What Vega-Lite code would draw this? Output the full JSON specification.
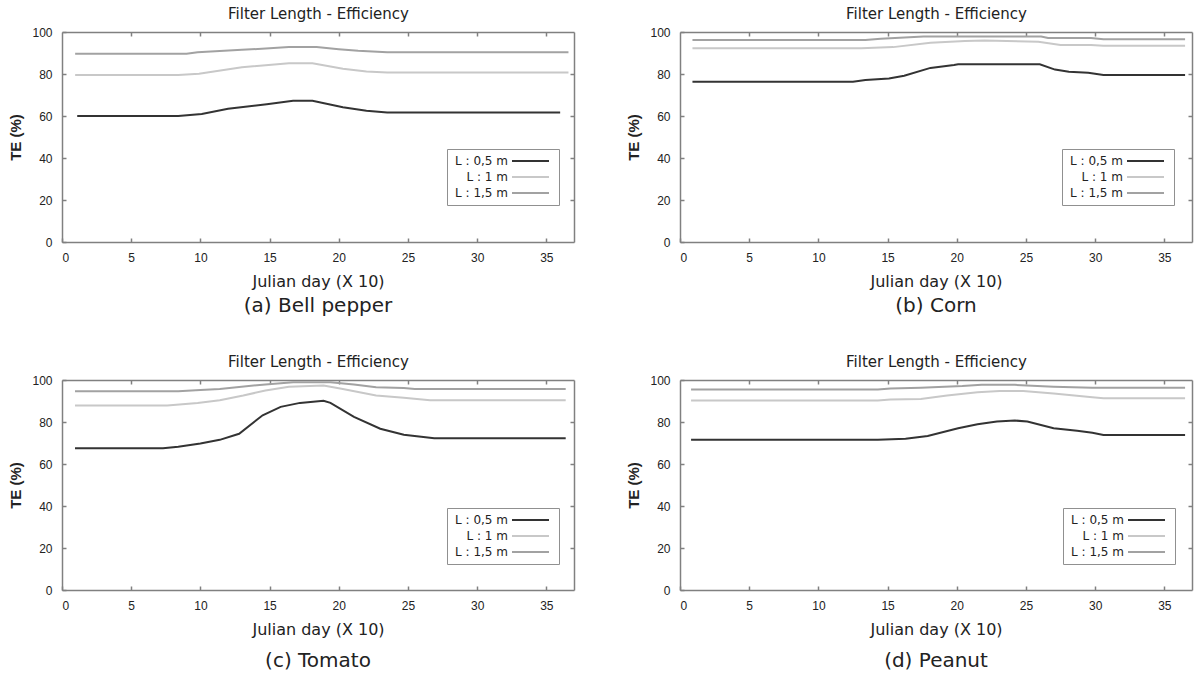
{
  "$schema": "https://vega.github.io/schema/vega-lite/v6.json",
  "padding": {"left": 8, "top": 6, "right": 4, "bottom": 0},
  "data": {"values": [
    {"crop":"Bell pepper","length":"L : 0,5 m","day":1.1,"te":60},
    {"crop":"Bell pepper","length":"L : 0,5 m","day":8.4,"te":60},
    {"crop":"Bell pepper","length":"L : 0,5 m","day":10.1,"te":61},
    {"crop":"Bell pepper","length":"L : 0,5 m","day":12,"te":63.4},
    {"crop":"Bell pepper","length":"L : 0,5 m","day":14.8,"te":65.6},
    {"crop":"Bell pepper","length":"L : 0,5 m","day":16.7,"te":67.3},
    {"crop":"Bell pepper","length":"L : 0,5 m","day":18.1,"te":67.3},
    {"crop":"Bell pepper","length":"L : 0,5 m","day":20.3,"te":64.2},
    {"crop":"Bell pepper","length":"L : 0,5 m","day":22,"te":62.5},
    {"crop":"Bell pepper","length":"L : 0,5 m","day":23.5,"te":61.7},
    {"crop":"Bell pepper","length":"L : 0,5 m","day":36,"te":61.7},
    {"crop":"Bell pepper","length":"L : 1 m","day":0.95,"te":79.5},
    {"crop":"Bell pepper","length":"L : 1 m","day":8.4,"te":79.5},
    {"crop":"Bell pepper","length":"L : 1 m","day":9.9,"te":80.1},
    {"crop":"Bell pepper","length":"L : 1 m","day":13,"te":83.2},
    {"crop":"Bell pepper","length":"L : 1 m","day":16.4,"te":85.1},
    {"crop":"Bell pepper","length":"L : 1 m","day":18.1,"te":85.1},
    {"crop":"Bell pepper","length":"L : 1 m","day":20.3,"te":82.5},
    {"crop":"Bell pepper","length":"L : 1 m","day":22,"te":81.2},
    {"crop":"Bell pepper","length":"L : 1 m","day":23.5,"te":80.7},
    {"crop":"Bell pepper","length":"L : 1 m","day":36.6,"te":80.7},
    {"crop":"Bell pepper","length":"L : 1,5 m","day":0.95,"te":89.6},
    {"crop":"Bell pepper","length":"L : 1,5 m","day":9,"te":89.6},
    {"crop":"Bell pepper","length":"L : 1,5 m","day":9.8,"te":90.3},
    {"crop":"Bell pepper","length":"L : 1,5 m","day":13,"te":91.5},
    {"crop":"Bell pepper","length":"L : 1,5 m","day":16.4,"te":92.8},
    {"crop":"Bell pepper","length":"L : 1,5 m","day":18.4,"te":92.8},
    {"crop":"Bell pepper","length":"L : 1,5 m","day":20,"te":91.8},
    {"crop":"Bell pepper","length":"L : 1,5 m","day":21.4,"te":91.1},
    {"crop":"Bell pepper","length":"L : 1,5 m","day":23.5,"te":90.4},
    {"crop":"Bell pepper","length":"L : 1,5 m","day":36.6,"te":90.4},

    {"crop":"Corn","length":"L : 0,5 m","day":0.9,"te":76.3},
    {"crop":"Corn","length":"L : 0,5 m","day":12.5,"te":76.3},
    {"crop":"Corn","length":"L : 0,5 m","day":13.4,"te":77.1},
    {"crop":"Corn","length":"L : 0,5 m","day":15.1,"te":77.9},
    {"crop":"Corn","length":"L : 0,5 m","day":16.2,"te":79.2},
    {"crop":"Corn","length":"L : 0,5 m","day":18.1,"te":82.9},
    {"crop":"Corn","length":"L : 0,5 m","day":19.8,"te":84.3},
    {"crop":"Corn","length":"L : 0,5 m","day":20.1,"te":84.6},
    {"crop":"Corn","length":"L : 0,5 m","day":26,"te":84.6},
    {"crop":"Corn","length":"L : 0,5 m","day":27.1,"te":82.1},
    {"crop":"Corn","length":"L : 0,5 m","day":28.1,"te":81.1},
    {"crop":"Corn","length":"L : 0,5 m","day":29.5,"te":80.6},
    {"crop":"Corn","length":"L : 0,5 m","day":30.6,"te":79.5},
    {"crop":"Corn","length":"L : 0,5 m","day":36.5,"te":79.5},
    {"crop":"Corn","length":"L : 1 m","day":0.9,"te":92.3},
    {"crop":"Corn","length":"L : 1 m","day":13.1,"te":92.3},
    {"crop":"Corn","length":"L : 1 m","day":15.4,"te":92.8},
    {"crop":"Corn","length":"L : 1 m","day":18.1,"te":94.9},
    {"crop":"Corn","length":"L : 1 m","day":20.6,"te":95.7},
    {"crop":"Corn","length":"L : 1 m","day":22,"te":96},
    {"crop":"Corn","length":"L : 1 m","day":25.9,"te":95.4},
    {"crop":"Corn","length":"L : 1 m","day":27.5,"te":93.8},
    {"crop":"Corn","length":"L : 1 m","day":29.7,"te":93.8},
    {"crop":"Corn","length":"L : 1 m","day":30.6,"te":93.4},
    {"crop":"Corn","length":"L : 1 m","day":36.5,"te":93.4},
    {"crop":"Corn","length":"L : 1,5 m","day":0.9,"te":96.2},
    {"crop":"Corn","length":"L : 1,5 m","day":13.4,"te":96.2},
    {"crop":"Corn","length":"L : 1,5 m","day":14.5,"te":96.8},
    {"crop":"Corn","length":"L : 1,5 m","day":17.6,"te":97.9},
    {"crop":"Corn","length":"L : 1,5 m","day":26.1,"te":97.9},
    {"crop":"Corn","length":"L : 1,5 m","day":26.6,"te":97.1},
    {"crop":"Corn","length":"L : 1,5 m","day":29.7,"te":97.1},
    {"crop":"Corn","length":"L : 1,5 m","day":30.6,"te":96.6},
    {"crop":"Corn","length":"L : 1,5 m","day":36.5,"te":96.6},

    {"crop":"Tomato","length":"L : 0,5 m","day":0.94,"te":67.5},
    {"crop":"Tomato","length":"L : 0,5 m","day":7.3,"te":67.5},
    {"crop":"Tomato","length":"L : 0,5 m","day":8.4,"te":68.2},
    {"crop":"Tomato","length":"L : 0,5 m","day":10,"te":69.8},
    {"crop":"Tomato","length":"L : 0,5 m","day":11.4,"te":71.5},
    {"crop":"Tomato","length":"L : 0,5 m","day":12.8,"te":74.4},
    {"crop":"Tomato","length":"L : 0,5 m","day":14.5,"te":83.2},
    {"crop":"Tomato","length":"L : 0,5 m","day":15.8,"te":87.2},
    {"crop":"Tomato","length":"L : 0,5 m","day":17.2,"te":89.1},
    {"crop":"Tomato","length":"L : 0,5 m","day":18.9,"te":90.1},
    {"crop":"Tomato","length":"L : 0,5 m","day":19.4,"te":89.1},
    {"crop":"Tomato","length":"L : 0,5 m","day":21.1,"te":82.4},
    {"crop":"Tomato","length":"L : 0,5 m","day":23,"te":76.8},
    {"crop":"Tomato","length":"L : 0,5 m","day":24.7,"te":73.9},
    {"crop":"Tomato","length":"L : 0,5 m","day":26.9,"te":72.3},
    {"crop":"Tomato","length":"L : 0,5 m","day":36.4,"te":72.3},
    {"crop":"Tomato","length":"L : 1 m","day":0.94,"te":87.8},
    {"crop":"Tomato","length":"L : 1 m","day":7.6,"te":87.8},
    {"crop":"Tomato","length":"L : 1 m","day":9.8,"te":89.1},
    {"crop":"Tomato","length":"L : 1 m","day":11.4,"te":90.4},
    {"crop":"Tomato","length":"L : 1 m","day":13.1,"te":92.6},
    {"crop":"Tomato","length":"L : 1 m","day":14.7,"te":95},
    {"crop":"Tomato","length":"L : 1 m","day":16.4,"te":96.8},
    {"crop":"Tomato","length":"L : 1 m","day":18.9,"te":97.4},
    {"crop":"Tomato","length":"L : 1 m","day":20.2,"te":95.8},
    {"crop":"Tomato","length":"L : 1 m","day":22.7,"te":92.6},
    {"crop":"Tomato","length":"L : 1 m","day":24.7,"te":91.5},
    {"crop":"Tomato","length":"L : 1 m","day":26.6,"te":90.4},
    {"crop":"Tomato","length":"L : 1 m","day":36.4,"te":90.4},
    {"crop":"Tomato","length":"L : 1,5 m","day":0.94,"te":94.6},
    {"crop":"Tomato","length":"L : 1,5 m","day":8.4,"te":94.6},
    {"crop":"Tomato","length":"L : 1,5 m","day":10,"te":95.2},
    {"crop":"Tomato","length":"L : 1,5 m","day":11.4,"te":95.7},
    {"crop":"Tomato","length":"L : 1,5 m","day":14.7,"te":97.9},
    {"crop":"Tomato","length":"L : 1,5 m","day":16.7,"te":98.9},
    {"crop":"Tomato","length":"L : 1,5 m","day":19.4,"te":98.9},
    {"crop":"Tomato","length":"L : 1,5 m","day":21.1,"te":97.9},
    {"crop":"Tomato","length":"L : 1,5 m","day":22.7,"te":96.5},
    {"crop":"Tomato","length":"L : 1,5 m","day":24.7,"te":96.2},
    {"crop":"Tomato","length":"L : 1,5 m","day":25.5,"te":95.7},
    {"crop":"Tomato","length":"L : 1,5 m","day":36.4,"te":95.7},

    {"crop":"Peanut","length":"L : 0,5 m","day":0.8,"te":71.5},
    {"crop":"Peanut","length":"L : 0,5 m","day":14.3,"te":71.5},
    {"crop":"Peanut","length":"L : 0,5 m","day":16.3,"te":72},
    {"crop":"Peanut","length":"L : 0,5 m","day":17.9,"te":73.3},
    {"crop":"Peanut","length":"L : 0,5 m","day":20.1,"te":77},
    {"crop":"Peanut","length":"L : 0,5 m","day":21.5,"te":78.9},
    {"crop":"Peanut","length":"L : 0,5 m","day":22.9,"te":80.2},
    {"crop":"Peanut","length":"L : 0,5 m","day":24.2,"te":80.7},
    {"crop":"Peanut","length":"L : 0,5 m","day":25.1,"te":80.2},
    {"crop":"Peanut","length":"L : 0,5 m","day":27,"te":77},
    {"crop":"Peanut","length":"L : 0,5 m","day":28.7,"te":75.8},
    {"crop":"Peanut","length":"L : 0,5 m","day":29.8,"te":74.9},
    {"crop":"Peanut","length":"L : 0,5 m","day":30.6,"te":73.8},
    {"crop":"Peanut","length":"L : 0,5 m","day":36.5,"te":73.8},
    {"crop":"Peanut","length":"L : 1 m","day":0.8,"te":90.2},
    {"crop":"Peanut","length":"L : 1 m","day":14.3,"te":90.2},
    {"crop":"Peanut","length":"L : 1 m","day":15.2,"te":90.7},
    {"crop":"Peanut","length":"L : 1 m","day":17.4,"te":91},
    {"crop":"Peanut","length":"L : 1 m","day":19.3,"te":92.6},
    {"crop":"Peanut","length":"L : 1 m","day":21.5,"te":94.2},
    {"crop":"Peanut","length":"L : 1 m","day":23.1,"te":94.8},
    {"crop":"Peanut","length":"L : 1 m","day":24.8,"te":94.8},
    {"crop":"Peanut","length":"L : 1 m","day":27,"te":93.6},
    {"crop":"Peanut","length":"L : 1 m","day":29.8,"te":91.8},
    {"crop":"Peanut","length":"L : 1 m","day":30.6,"te":91.3},
    {"crop":"Peanut","length":"L : 1 m","day":36.5,"te":91.3},
    {"crop":"Peanut","length":"L : 1,5 m","day":0.8,"te":95.5},
    {"crop":"Peanut","length":"L : 1,5 m","day":14.3,"te":95.5},
    {"crop":"Peanut","length":"L : 1,5 m","day":15.2,"te":96},
    {"crop":"Peanut","length":"L : 1,5 m","day":17.4,"te":96.3},
    {"crop":"Peanut","length":"L : 1,5 m","day":20.4,"te":97.1},
    {"crop":"Peanut","length":"L : 1,5 m","day":21.8,"te":97.7},
    {"crop":"Peanut","length":"L : 1,5 m","day":24.2,"te":97.7},
    {"crop":"Peanut","length":"L : 1,5 m","day":27,"te":96.8},
    {"crop":"Peanut","length":"L : 1,5 m","day":29.8,"te":96.3},
    {"crop":"Peanut","length":"L : 1,5 m","day":36.5,"te":96.3}
  ]},
  "vconcat": [
    {"hconcat": [
      {"width": 512, "height": 210,
       "title": {"text": "(a) Bell pepper", "offset": 7},
       "transform": [{"filter": "datum.crop == 'Bell pepper'"}],
       "layer": [
        {"mark": {"type": "line", "strokeWidth": 2},
         "encoding": {
          "x": {"field": "day", "type": "quantitative", "scale": {"domain": [0, 37], "nice": false}, "axis": {"orient": "bottom", "title": "Julian day (X 10)", "values": [0,5,10,15,20,25,30,35]}},
          "y": {"field": "te", "type": "quantitative", "scale": {"domain": [0, 100], "nice": false}, "axis": {"orient": "left", "title": "TE (%)", "values": [0,20,40,60,80,100]}},
          "color": {"field": "length", "type": "nominal", "scale": {"domain": ["L : 0,5 m", "L : 1 m", "L : 1,5 m"], "range": ["#333333", "#c8c8c8", "#a2a2a2"]}, "legend": {"legendX": 385, "legendY": 117}}
         }},
        {"mark": {"type": "point", "opacity": 0},
         "encoding": {
          "x": {"field": "day", "type": "quantitative", "axis": {"orient": "top", "title": "Filter Length - Efficiency", "labels": false, "values": [5,10,15,20,25,30,35]}},
          "y": {"field": "te", "type": "quantitative", "axis": {"orient": "right", "title": null, "labels": false, "values": [20,40,60,80]}}
         }}
       ]},
      {"width": 512, "height": 210,
       "title": {"text": "(b) Corn", "offset": 7},
       "transform": [{"filter": "datum.crop == 'Corn'"}],
       "layer": [
        {"mark": {"type": "line", "strokeWidth": 2},
         "encoding": {
          "x": {"field": "day", "type": "quantitative", "scale": {"domain": [0, 37], "nice": false}, "axis": {"orient": "bottom", "title": "Julian day (X 10)", "values": [0,5,10,15,20,25,30,35]}},
          "y": {"field": "te", "type": "quantitative", "scale": {"domain": [0, 100], "nice": false}, "axis": {"orient": "left", "title": "TE (%)", "values": [0,20,40,60,80,100]}},
          "color": {"field": "length", "type": "nominal", "scale": {"domain": ["L : 0,5 m", "L : 1 m", "L : 1,5 m"], "range": ["#333333", "#c8c8c8", "#a2a2a2"]}, "legend": {"legendX": 382, "legendY": 117}}
         }},
        {"mark": {"type": "point", "opacity": 0},
         "encoding": {
          "x": {"field": "day", "type": "quantitative", "axis": {"orient": "top", "title": "Filter Length - Efficiency", "labels": false, "values": [5,10,15,20,25,30,35]}},
          "y": {"field": "te", "type": "quantitative", "axis": {"orient": "right", "title": null, "labels": false, "values": [20,40,60,80]}}
         }}
       ]}
    ], "spacing": 51, "resolve": {"legend": {"color": "independent"}}},
    {"hconcat": [
      {"width": 512, "height": 210,
       "title": {"text": "(c) Tomato", "offset": 14},
       "transform": [{"filter": "datum.crop == 'Tomato'"}],
       "layer": [
        {"mark": {"type": "line", "strokeWidth": 2},
         "encoding": {
          "x": {"field": "day", "type": "quantitative", "scale": {"domain": [0, 37], "nice": false}, "axis": {"orient": "bottom", "title": "Julian day (X 10)", "values": [0,5,10,15,20,25,30,35]}},
          "y": {"field": "te", "type": "quantitative", "scale": {"domain": [0, 100], "nice": false}, "axis": {"orient": "left", "title": "TE (%)", "values": [0,20,40,60,80,100]}},
          "color": {"field": "length", "type": "nominal", "scale": {"domain": ["L : 0,5 m", "L : 1 m", "L : 1,5 m"], "range": ["#333333", "#c8c8c8", "#a2a2a2"]}, "legend": {"legendX": 385, "legendY": 128}}
         }},
        {"mark": {"type": "point", "opacity": 0},
         "encoding": {
          "x": {"field": "day", "type": "quantitative", "axis": {"orient": "top", "title": "Filter Length - Efficiency", "labels": false, "values": [5,10,15,20,25,30,35]}},
          "y": {"field": "te", "type": "quantitative", "axis": {"orient": "right", "title": null, "labels": false, "values": [20,40,60,80]}}
         }}
       ]},
      {"width": 512, "height": 210,
       "title": {"text": "(d) Peanut", "offset": 14},
       "transform": [{"filter": "datum.crop == 'Peanut'"}],
       "layer": [
        {"mark": {"type": "line", "strokeWidth": 2},
         "encoding": {
          "x": {"field": "day", "type": "quantitative", "scale": {"domain": [0, 37], "nice": false}, "axis": {"orient": "bottom", "title": "Julian day (X 10)", "values": [0,5,10,15,20,25,30,35]}},
          "y": {"field": "te", "type": "quantitative", "scale": {"domain": [0, 100], "nice": false}, "axis": {"orient": "left", "title": "TE (%)", "values": [0,20,40,60,80,100]}},
          "color": {"field": "length", "type": "nominal", "scale": {"domain": ["L : 0,5 m", "L : 1 m", "L : 1,5 m"], "range": ["#333333", "#c8c8c8", "#a2a2a2"]}, "legend": {"legendX": 383, "legendY": 128}}
         }},
        {"mark": {"type": "point", "opacity": 0},
         "encoding": {
          "x": {"field": "day", "type": "quantitative", "axis": {"orient": "top", "title": "Filter Length - Efficiency", "labels": false, "values": [5,10,15,20,25,30,35]}},
          "y": {"field": "te", "type": "quantitative", "axis": {"orient": "right", "title": null, "labels": false, "values": [20,40,60,80]}}
         }}
       ]}
    ], "spacing": 51, "resolve": {"legend": {"color": "independent"}}}
  ],
  "spacing": 38,
  "resolve": {"legend": {"color": "independent"}},
  "config": {
    "font": "Liberation Sans",
    "view": {"stroke": null},
    "title": {"orient": "bottom", "anchor": "middle", "font": "DejaVu Sans", "fontSize": 20, "fontWeight": "normal", "color": "#222222"},
    "axis": {
      "grid": false,
      "domainColor": "#808080", "domainWidth": 1.5,
      "tickColor": "#808080", "tickWidth": 1.5, "tickSize": -4,
      "labelFontSize": 12, "labelColor": "#222222", "labelPadding": 12,
      "titleFontSize": 15, "titleFontWeight": "normal", "titleColor": "#222222"
    },
    "axisBottom": {"labelPadding": 14, "titlePadding": 10, "titleFont": "DejaVu Sans", "titleFontSize": 16},
    "axisTop": {"titleFont": "DejaVu Sans", "titleFontSize": 15, "titlePadding": 10},
    "axisLeft": {"labelPadding": 14, "titleFontWeight": "bold", "titlePadding": 8},
    "legend": {
      "orient": "none", "title": null,
      "symbolType": "M-3.7,0H3.7", "symbolSize": 100, "symbolStrokeWidth": 2,
      "symbolOffset": 71.5,
      "labelAlign": "right", "labelOffset": -28.5, "labelFont": "DejaVu Sans", "labelFontSize": 12, "labelColor": "#222222",
      "strokeColor": "#909090", "fillColor": "#ffffff", "padding": 6, "rowPadding": 4
    }
  }
}
